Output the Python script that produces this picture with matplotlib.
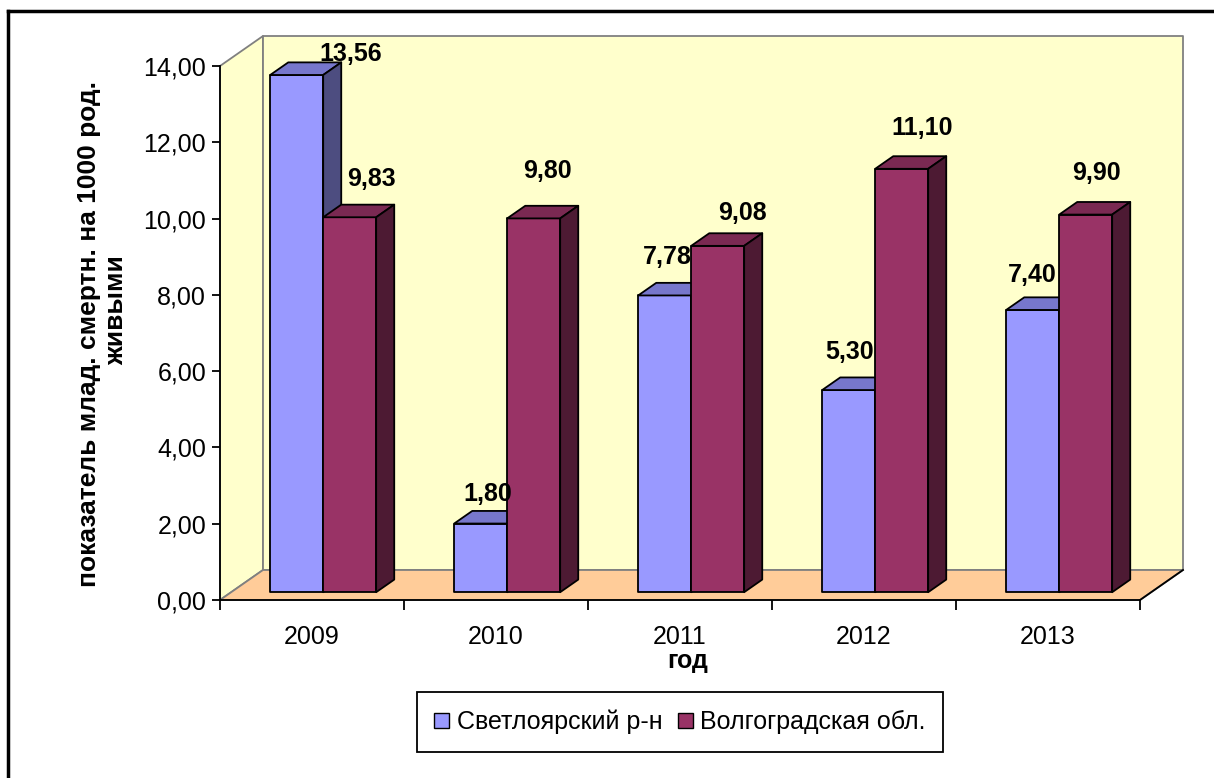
import matplotlib
matplotlib.use("Agg")
import matplotlib.pyplot as plt
from matplotlib.patches import Polygon, Patch
from matplotlib.lines import Line2D

plt.rcParams['font.family'] = ['Liberation Sans', 'DejaVu Sans']

# data
years = ['2009', '2010', '2011', '2012', '2013']
series_names = ['Светлоярский р-н', 'Волгоградская обл.']
svetloyarsk = [13.56, 1.80, 7.78, 5.30, 7.40]
volgograd = [9.83, 9.80, 9.08, 11.10, 9.90]
y_ticks = [0, 2, 4, 6, 8, 10, 12, 14]
y_title = ['показатель млад. смертн. на 1000 род.', 'живыми']

# label offsets in pixels (dx, dy) from the top-front centre of each bar
svet_offsets = [(54, 21), (7, 30), (3, 38), (1, 38), (0, 35)]
volg_offsets = [(22, 38), (14, 47), (25, 33), (20, 41), (11, 42)]

# styles
W, H = 1214, 778
svet_cols = ('#9999FF', '#7777CC', '#4D4D80')   # front, top, side
volg_cols = ('#993366', '#7A2952', '#4D1A33')
wall_col = '#FFFFCC'
floor_col = '#FFCC99'
grey = '#808080'

fig = plt.figure(figsize=(W / 100, H / 100), dpi=100)
# axes: x 0..5 maps to px 220..1140, y 0..14 maps to px 600..66
ax = fig.add_axes([220 / W, 1 - 600 / H, 920 / W, 534 / H])
ax.set_xlim(0, 5)
ax.set_ylim(0, 14)

# depth of the 3D box in data units
DX = 43 / 184
DY = 30 / (534 / 14)
f0, f1 = 0.26, 0.68   # bar front / back depth fractions
bw = 0.288            # bar width in category units
top = y_ticks[-1]
n = len(years)


def P(x, v, f):
    return (x + f * DX, v + f * DY)


def poly(pts, fc, ec='black', lw=1.3, z=1):
    ax.add_patch(Polygon(pts, closed=True, facecolor=fc, edgecolor=ec,
                         linewidth=lw, zorder=z, clip_on=False, joinstyle='round'))


# walls and floor
poly([P(0, 0, 0), P(0, 0, 1), P(0, top, 1), P(0, top, 0)], wall_col, ec=grey, z=0.5)
poly([P(0, 0, 1), P(n, 0, 1), P(n, top, 1), P(0, top, 1)], wall_col, ec=grey, z=0.5)
poly([P(0, 0, 0), P(n, 0, 0), P(n, 0, 1), P(0, 0, 1)], floor_col, ec=grey, z=0.6)
# black right floor edge
ax.plot(*zip(P(n, 0, 0), P(n, 0, 1)), color='black', lw=1.3, zorder=0.7, clip_on=False)


def bar3d(x0, x1, v, cols):
    front, topc, side = cols
    poly([P(x0, 0, f0), P(x1, 0, f0), P(x1, v, f0), P(x0, v, f0)], front, z=2)
    poly([P(x0, v, f0), P(x1, v, f0), P(x1, v, f1), P(x0, v, f1)], topc, z=2)
    poly([P(x1, 0, f0), P(x1, 0, f1), P(x1, v, f1), P(x1, v, f0)], side, z=2)


def fmt(v):
    return f'{v:.2f}'.replace('.', ',')


for i in range(n):
    c = i + 0.5
    bar3d(c - bw, c, svetloyarsk[i], svet_cols)
    bar3d(c, c + bw, volgograd[i], volg_cols)
    for val, x, off in [(svetloyarsk[i], c - bw / 2, svet_offsets[i]),
                        (volgograd[i], c + bw / 2, volg_offsets[i])]:
        ax.annotate(fmt(val), xy=P(x, val, f0), xytext=off, textcoords='offset pixels',
                    ha='center', va='center', fontsize=18, fontweight='bold', zorder=5,
                    annotation_clip=False)

# axes styling
for s in ['top', 'right']:
    ax.spines[s].set_visible(False)
ax.spines['left'].set_linewidth(1.3)
ax.spines['bottom'].set_linewidth(1.3)
ax.spines['left'].set_zorder(3)
ax.spines['bottom'].set_zorder(0.8)
ax.patch.set_visible(False)
ax.set_yticks(y_ticks)
ax.set_yticklabels([fmt(t) for t in y_ticks])
ax.tick_params(axis='y', direction='out', length=6, width=1.3, labelsize=18, pad=4)
ax.set_xticks(range(n + 1))
ax.set_xticklabels([])
ax.set_xticks([i + 0.5 for i in range(n)], minor=True)
ax.set_xticklabels(years, minor=True)
ax.tick_params(axis='x', which='major', direction='out', length=7, width=1.3)
ax.tick_params(axis='x', which='minor', length=0, labelsize=18, pad=18)

fig.text(688 / W, 1 - 661 / H, 'год', ha='center', va='center', fontsize=18, fontweight='bold')
# y axis title, two lines
fig.text(89 / W, 1 - 334 / H, y_title[0], rotation=90, ha='center', va='center',
         fontsize=19, fontweight='bold')
fig.text(116 / W, 1 - 310 / H, y_title[1], rotation=90, ha='center', va='center',
         fontsize=19, fontweight='bold')

handles = [Patch(facecolor=svet_cols[0], edgecolor='black'),
           Patch(facecolor=volg_cols[0], edgecolor='black')]
leg = fig.legend(handles, series_names, loc='center', bbox_to_anchor=(680 / W, 1 - 722 / H),
                 ncol=2, fontsize=18, frameon=True, fancybox=False, edgecolor='black',
                 framealpha=1, handlelength=0.6, handleheight=0.6, handletextpad=0.3,
                 columnspacing=0.6, borderpad=0.7)
leg.get_frame().set_linewidth(1.3)

# outer chart frame (cut off at right and bottom)
fig.add_artist(Line2D([8 / W, 8 / W], [0, 1 - 11 / H], color='black', lw=2.5))
fig.add_artist(Line2D([8 / W, 1], [1 - 11 / H, 1 - 11 / H], color='black', lw=2.5))

fig.savefig('out.png', dpi=100)
